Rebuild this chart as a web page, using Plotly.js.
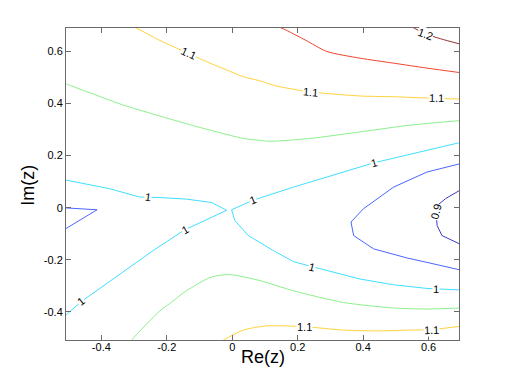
<!DOCTYPE html>
<html><head><meta charset="utf-8">
<script src="https://cdn.plot.ly/plotly-3.0.1.min.js"></script>
<style>html,body{margin:0;padding:0;background:#fff}</style>
</head><body><div id="chart" style="width:507px;height:382px"></div>
<script>
// contour level values
const levels = [0.9, 0.95, 1, 1.05, 1.1, 1.15, 1.2];

// contour polylines (x = Re(z), y = Im(z))
const c090_x = [0.70, 0.652, 0.628, 0.623, 0.626, 0.641, 0.70];
const c090_y = [0.070, 0.035, 0.010, -0.017, -0.068, -0.107, -0.142];

const c095a_x = [-0.52, -0.413, -0.52];
const c095a_y = [0.000, -0.008, -0.089];
const c095b_x = [0.70, 0.595, 0.493, 0.401, 0.363, 0.371, 0.432, 0.534, 0.595, 0.70];
const c095b_y = [0.170, 0.137, 0.079, -0.004, -0.055, -0.107, -0.158, -0.193, -0.210, -0.240];

const c100a_x = [-0.52, -0.375, -0.283, -0.221, -0.140, -0.063, -0.017, -0.145, -0.242, -0.313, -0.461, -0.52];
const c100a_y = [0.109, 0.073, 0.041, 0.039, 0.033, 0.020, -0.010, -0.085, -0.165, -0.229, -0.360, -0.425];
const c100b_x = [0.72, 0.692, 0.432, 0.187, 0.062, -0.002, 0.008, 0.049, 0.126, 0.187, 0.243, 0.391, 0.493, 0.595, 0.70];
const c100b_y = [0.256, 0.249, 0.172, 0.079, 0.028, -0.008, -0.049, -0.107, -0.165, -0.207, -0.226, -0.274, -0.296, -0.310, -0.316];

const c105a_x = [-0.52, -0.507, -0.375, -0.323, -0.221, -0.119, -0.068, 0.034, 0.082, 0.115, 0.238, 0.391, 0.544, 0.70];
const c105a_y = [0.481, 0.475, 0.413, 0.390, 0.352, 0.315, 0.298, 0.266, 0.259, 0.255, 0.266, 0.291, 0.317, 0.335];
const c105b_x = [-0.31, -0.303, -0.221, -0.191, -0.140, -0.063, -0.007, 0.085, 0.187, 0.340, 0.493, 0.595, 0.70];
const c105b_y = [-0.515, -0.502, -0.396, -0.368, -0.319, -0.266, -0.257, -0.280, -0.319, -0.364, -0.385, -0.389, -0.385];

const c110a_x = [-0.31, -0.293, -0.221, -0.135, -0.068, -0.017, 0.034, 0.082, 0.136, 0.238, 0.391, 0.493, 0.624, 0.70];
const c110a_y = [0.700, 0.690, 0.642, 0.593, 0.555, 0.529, 0.503, 0.488, 0.467, 0.445, 0.429, 0.426, 0.420, 0.417];
const c110b_x = [-0.037, 0.034, 0.105, 0.221, 0.340, 0.442, 0.544, 0.608, 0.70];
const c110b_y = [-0.515, -0.470, -0.454, -0.457, -0.470, -0.473, -0.470, -0.468, -0.455];

const c115_x = [0.13, 0.156, 0.223, 0.289, 0.391, 0.493, 0.595, 0.70];
const c115_y = [0.700, 0.687, 0.644, 0.600, 0.574, 0.555, 0.536, 0.518];

const c120_x = [0.54, 0.590, 0.636, 0.70];
const c120_y = [0.700, 0.668, 0.649, 0.627];

// inline contour labels
const labelX = [-0.135, 0.238, 0.624, 0.590, -0.257, -0.145, 0.062, 0.432, -0.461, 0.243, 0.624, 0.623, 0.221, 0.608];
const labelY = [0.593, 0.445, 0.420, 0.668, 0.041, -0.085, 0.028, 0.172, -0.360, -0.226, -0.312, -0.017, -0.457, -0.468];
const labelText = ['1.1', '1.1', '1.1', '1.2', '1', '1', '1', '1', '1', '1', '1', '0.9', '1.1', '1.1'];
const labelAngle = [25, 5, 1, 20, 8, -30, -22, -16, -38, 14, 1, -75, 0, -2];

// axis ticks
const xTickVals = [-0.4, -0.2, 0, 0.2, 0.4, 0.6];
const xTickText = ['-0.4', '-0.2', '0', '0.2', '0.4', '0.6'];
const yTickVals = [-0.4, -0.2, 0, 0.2, 0.4, 0.6];
const yTickText = ['-0.4', '-0.2', '0', '0.2', '0.4', '0.6'];

const levelColors = {
  0.9: '#3c3cc8', 0.95: '#4a66ff', 1: '#3ee0ff', 1.05: '#8cf08c',
  1.1: '#ffd23c', 1.15: '#f0442e', 1.2: '#9a3030'
};

// [level, x, y, smooth]
const pieces = [
  [0.9, c090_x, c090_y, false],
  [0.95, c095a_x, c095a_y, false], [0.95, c095b_x, c095b_y, false],
  [1, c100a_x, c100a_y, false], [1, c100b_x, c100b_y, false],
  [1.05, c105a_x, c105a_y, true], [1.05, c105b_x, c105b_y, true],
  [1.1, c110a_x, c110a_y, true], [1.1, c110b_x, c110b_y, true],
  [1.15, c115_x, c115_y, true],
  [1.2, c120_x, c120_y, true]
];

const traces = pieces.map(p => ({
  type: 'scatter', mode: 'lines', x: p[1], y: p[2],
  line: p[3] ? {color: levelColors[p[0]], width: 1, shape: 'spline', smoothing: 0.7}
             : {color: levelColors[p[0]], width: 1, shape: 'linear'},
  hoverinfo: 'skip', showlegend: false, name: String(p[0])
}));

const fontFam = 'Liberation Sans, Arial, sans-serif';
const annotations = labelX.map((x, i) => ({
  x: x, y: labelY[i], xref: 'x', yref: 'y', text: labelText[i],
  showarrow: false, textangle: labelAngle[i], bgcolor: '#ffffff',
  borderpad: 0, font: {family: fontFam, size: 11, color: '#000'}
}));
annotations.push({
  text: 'Re(z)', xref: 'paper', yref: 'paper', x: 0.501, y: -0.056,
  xanchor: 'center', yanchor: 'middle', showarrow: false,
  font: {family: fontFam, size: 18, color: '#000'}
});
annotations.push({
  text: 'Im(z)', xref: 'paper', yref: 'paper', x: -0.097, y: 0.497,
  xanchor: 'center', yanchor: 'middle', showarrow: false, textangle: -90,
  font: {family: fontFam, size: 18, color: '#000'}
});

const axisCommon = {
  showgrid: false, zeroline: false, showline: true, linecolor: '#6a6a6a',
  linewidth: 1, mirror: 'ticks', ticks: 'inside', ticklen: 5, tickwidth: 1,
  tickcolor: '#6a6a6a', tickfont: {family: fontFam, size: 11, color: '#000'},
  tickmode: 'array'
};

const layout = {
  width: 507, height: 382,
  margin: {l: 66, r: 48, t: 28, b: 42, pad: 0},
  paper_bgcolor: '#ffffff', plot_bgcolor: '#ffffff',
  xaxis: Object.assign({}, axisCommon, {range: [-0.508, 0.693], tickvals: xTickVals, ticktext: xTickText, ticklabelstandoff: -3}),
  yaxis: Object.assign({}, axisCommon, {range: [-0.508, 0.690], tickvals: yTickVals, ticktext: yTickText}),
  annotations: annotations,
  showlegend: false
};

Plotly.newPlot('chart', traces, layout, {displayModeBar: false, staticPlot: true});
</script>
</body></html>
